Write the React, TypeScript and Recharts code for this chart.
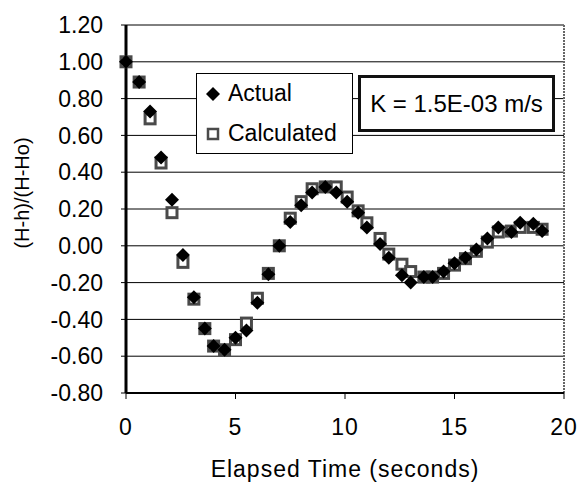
import React from "react";
import {
  ScatterChart, Scatter, XAxis, YAxis, CartesianGrid, ReferenceLine,
} from "recharts";

const FONT = '"Liberation Sans", Arial, sans-serif';

// elapsed time (s)
const times = [
  0, 0.6, 1.1, 1.6, 2.1, 2.6, 3.1, 3.6, 4.0, 4.5,
  5.0, 5.5, 6.0, 6.5, 7.0, 7.5, 8.0, 8.5, 9.1, 9.6,
  10.1, 10.6, 11.0, 11.6, 12.0, 12.6, 13.0, 13.6, 14.0, 14.5,
  15.0, 15.5, 16.0, 16.5, 17.0, 17.6, 18.0, 18.6, 19.0,
];
const actual = [
  1.0, 0.89, 0.73, 0.48, 0.25, -0.05, -0.28, -0.45, -0.545, -0.565,
  -0.5, -0.46, -0.31, -0.155, 0.0, 0.13, 0.22, 0.29, 0.32, 0.29,
  0.24, 0.18, 0.1, 0.01, -0.065, -0.16, -0.2, -0.17, -0.17, -0.14,
  -0.095, -0.065, -0.02, 0.04, 0.1, 0.075, 0.125, 0.12, 0.08,
];
const calculated = [
  1.0, 0.89, 0.69, 0.45, 0.18, -0.09, -0.29, -0.45, -0.545, -0.565,
  -0.51, -0.42, -0.285, -0.15, 0.0, 0.15, 0.24, 0.31, 0.32, 0.32,
  0.265, 0.19, 0.125, 0.04, -0.045, -0.1, -0.14, -0.17, -0.17, -0.15,
  -0.105, -0.07, -0.03, 0.02, 0.075, 0.08, 0.1, 0.1, 0.09,
];
const xTicks = [0, 5, 10, 15, 20];
const yTicks = [-0.8, -0.6, -0.4, -0.2, 0, 0.2, 0.4, 0.6, 0.8, 1.0, 1.2];

const actualData = times.map((t, i) => ({ t, v: actual[i] }));
const calcData = times.map((t, i) => ({ t, v: calculated[i] }));

function Diamond(p: any) {
  const { cx, cy } = p;
  const r = 7;
  return (
    <polygon
      points={`${cx},${cy - r} ${cx + r},${cy} ${cx},${cy + r} ${cx - r},${cy}`}
      fill="#000"
    />
  );
}

function Square(p: any) {
  const { cx, cy } = p;
  return (
    <rect x={cx - 5} y={cy - 5} width={10} height={10} fill="#fff" stroke="#4a4a4a" strokeWidth={3} />
  );
}

function YTitle(p: any) {
  const vb = p.viewBox;
  const x = vb.x + 22;
  const y = vb.y + vb.height / 2 - 16;
  return (
    <text x={x} y={y} transform={`rotate(-90, ${x}, ${y})`} textAnchor="middle"
      dominantBaseline="central" fontSize={20} fontFamily={FONT} fill="#000">
      (H-h)/(H-Ho)
    </text>
  );
}

function XTitle(p: any) {
  const vb = p.viewBox;
  return (
    <text x={vb.x + vb.width / 2} y={477} textAnchor="middle" fontSize={23}
      fontFamily={FONT} letterSpacing={1} fill="#000">
      Elapsed Time (seconds)
    </text>
  );
}

export default function App() {
  return (
    <div style={{ position: "relative", width: 581, height: 483, background: "#fff", fontFamily: FONT }}>
      <style>{`body{margin:0}`}</style>
      <ScatterChart width={581} height={483} margin={{ top: 25, right: 17, bottom: 0, left: 0 }}>
        <CartesianGrid horizontal vertical={false} stroke="#000" strokeWidth={1} />
        <XAxis
          type="number" dataKey="t" domain={[0, 20]} ticks={xTicks} height={90}
          axisLine={{ stroke: "#000", strokeWidth: 2 }} tickLine={{ stroke: "#000" }}
          tickSize={6} tickMargin={20}
          tick={{ fontSize: 23, fill: "#000", fontFamily: FONT, letterSpacing: 1 }}
          label={<XTitle />}
        />
        <YAxis
          type="number" dataKey="v" domain={[-0.8, 1.2]} ticks={yTicks} width={126}
          axisLine={{ stroke: "#000", strokeWidth: 3 }} tickLine={{ stroke: "#000" }}
          tickSize={5} tickMargin={18} tickFormatter={(v: number) => v.toFixed(2)}
          tick={{ fontSize: 23, fill: "#000", fontFamily: FONT }}
          label={<YTitle />}
        />
        <ReferenceLine x={20} stroke="#666" strokeWidth={2} strokeDasharray="2 1" />
        <Scatter name="Calculated" data={calcData} shape={<Square />} isAnimationActive={false} />
        <Scatter name="Actual" data={actualData} shape={<Diamond />} isAnimationActive={false} />
      </ScatterChart>

      <div style={{
        position: "absolute", left: 196, top: 73, width: 157, height: 81, boxSizing: "border-box",
        border: "1px solid #000", background: "#fff", fontSize: 23, color: "#000",
      }}>
        <div style={{ position: "absolute", left: 8, top: 6, display: "flex", alignItems: "center" }}>
          <svg width={16} height={16}><polygon points="8,1 15,8 8,15 1,8" fill="#000" /></svg>
          <span style={{ marginLeft: 7 }}>Actual</span>
        </div>
        <div style={{ position: "absolute", left: 8, top: 46, display: "flex", alignItems: "center" }}>
          <svg width={16} height={16}><rect x={3} y={3} width={10} height={10} fill="#fff" stroke="#4a4a4a" strokeWidth={2.5} /></svg>
          <span style={{ marginLeft: 7 }}>Calculated</span>
        </div>
      </div>

      <div style={{
        position: "absolute", left: 358, top: 75, width: 197, height: 57, boxSizing: "border-box",
        border: "3px solid #111", background: "#fff", fontSize: 24, color: "#000",
        display: "flex", alignItems: "center", justifyContent: "center",
      }}>
        K = 1.5E-03 m/s
      </div>
    </div>
  );
}
